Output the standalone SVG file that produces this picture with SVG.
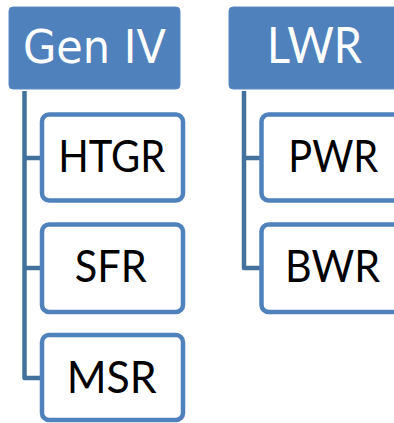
<svg xmlns="http://www.w3.org/2000/svg" width="394" height="423" viewBox="0 0 394 423">
<style>
.hdr{fill:#4F81BD;stroke:#5A8AC4;stroke-width:1}
.box{fill:#FFFFFF;stroke:#4F81BD;stroke-width:4.5}
.conn{fill:none;stroke:#41719C;stroke-width:4.5;stroke-linejoin:round}
.ht{font-family:"DejaVu Sans",sans-serif;fill:#FFFFFF;text-anchor:middle}
.ct{font-family:Lato,"Open Sans",sans-serif;fill:#000000;text-anchor:middle;font-size:45px}
</style>
<rect width="394" height="423" fill="#FFFFFF"/>
<g id="connectors">
<path class="conn" d="M24.5 91 V378 H42"/>
<path class="conn" d="M24.5 158 H42"/>
<path class="conn" d="M24.5 268 H42"/>
<path class="conn" d="M244 91 V268 H261.5"/>
<path class="conn" d="M244 158 H261.5"/>
</g>
<g id="genIV">
<rect class="hdr" x="9" y="7" width="171" height="82" rx="4"/>
<text class="ht" x="94.5" y="63" font-size="46" textLength="143" lengthAdjust="spacingAndGlyphs">Gen IV</text>
</g>
<g id="lwr">
<rect class="hdr" x="229" y="7" width="171" height="82" rx="4"/>
<text class="ht" x="314.5" y="63" font-size="50" style="font-family:Lato,'Open Sans',sans-serif" textLength="95" lengthAdjust="spacingAndGlyphs">LWR</text>
</g>
<g id="htgr">
<rect class="box" x="42" y="114.5" width="141" height="86" rx="7"/>
<text class="ct" x="111.7" y="171.7" textLength="107" lengthAdjust="spacingAndGlyphs">HTGR</text>
</g>
<g id="sfr">
<rect class="box" x="42" y="224.5" width="141" height="87.5" rx="7"/>
<text class="ct" x="110.8" y="282.3" textLength="72" lengthAdjust="spacingAndGlyphs">SFR</text>
</g>
<g id="msr">
<rect class="box" x="42" y="335" width="141" height="85" rx="7"/>
<text class="ct" x="111.7" y="393" textLength="90" lengthAdjust="spacingAndGlyphs">MSR</text>
</g>
<g id="pwr">
<rect class="box" x="261.5" y="114.5" width="141" height="86" rx="7"/>
<text class="ct" x="333.3" y="171.7" textLength="90" lengthAdjust="spacingAndGlyphs">PWR</text>
</g>
<g id="bwr">
<rect class="box" x="261.5" y="224.5" width="141" height="87.5" rx="7"/>
<text class="ct" x="332.5" y="281.7" textLength="95" lengthAdjust="spacingAndGlyphs">BWR</text>
</g>
</svg>
